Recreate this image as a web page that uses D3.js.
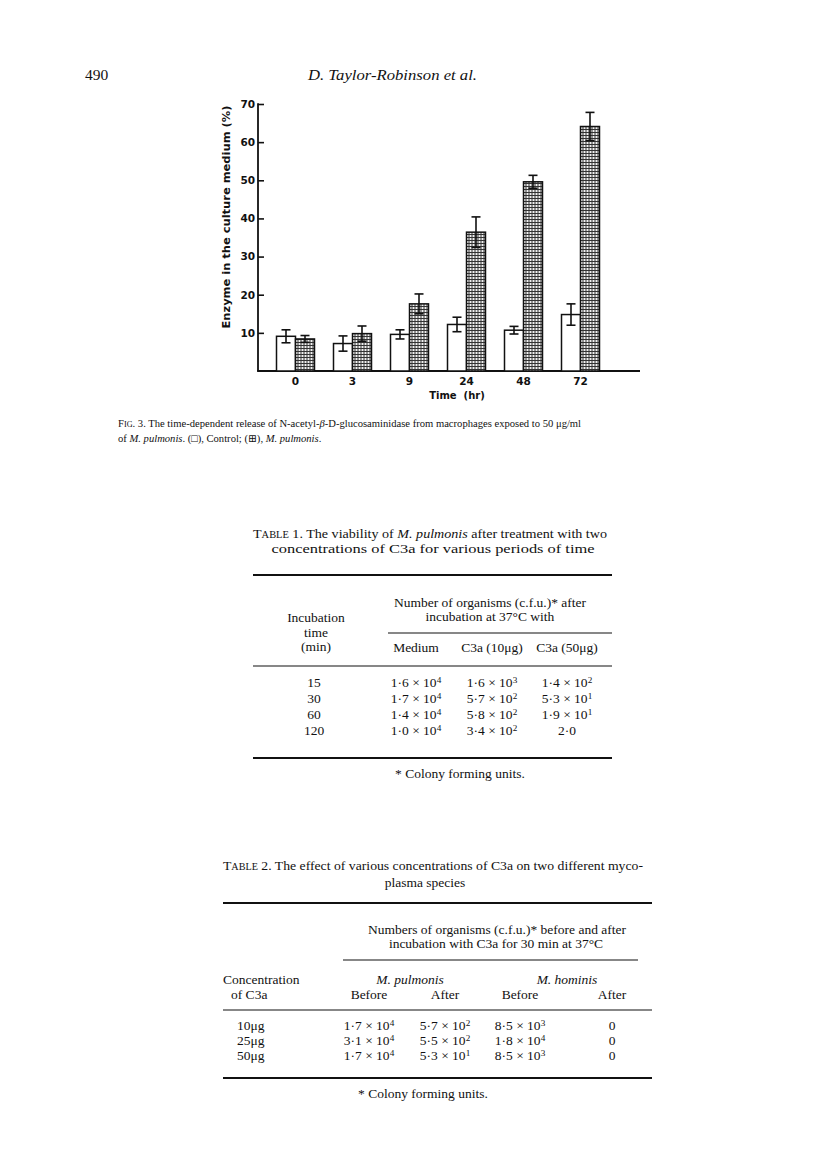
<!DOCTYPE html>
<html>
<head>
<meta charset="utf-8">
<script src="https://cdn.jsdelivr.net/npm/d3@7"></script>
<style>
  html, body { margin: 0; padding: 0; background: #fff; }
  svg { display: block; }
  .serif { font-family: "Liberation Serif", "DejaVu Serif", serif; fill: #111; }
  .sans { font-family: "DejaVu Sans", sans-serif; font-weight: bold; fill: #111; }
</style>
</head>
<body>
<svg id="page" width="816" height="1157"></svg>
<script>
// ---------- Chart data ----------
const categories = ["0", "3", "9", "24", "48", "72"];
const controlValues = [9.1, 7.2, 9.6, 12.2, 10.7, 14.8];
const controlErrors = [1.7, 2.0, 1.2, 1.9, 1.0, 2.8];
const pulmonisValues = [8.4, 9.8, 17.6, 36.4, 49.6, 64.1];
const pulmonisErrors = [0.9, 2.0, 2.6, 4.0, 1.7, 3.7];
const yTickValues = [10, 20, 30, 40, 50, 60, 70];

// ---------- Table 1 data ----------
const t1Times = ["15", "30", "60", "120"];
const t1Medium = ["1·6 × 10^4", "1·7 × 10^4", "1·4 × 10^4", "1·0 × 10^4"];
const t1C3a10 = ["1·6 × 10^3", "5·7 × 10^2", "5·8 × 10^2", "3·4 × 10^2"];
const t1C3a50 = ["1·4 × 10^2", "5·3 × 10^1", "1·9 × 10^1", "2·0"];
const t1Columns = ["Medium", "C3a (10μg)", "C3a (50μg)"];

// ---------- Table 2 data ----------
const t2Conc = ["10μg", "25μg", "50μg"];
const t2PulBefore = ["1·7 × 10^4", "3·1 × 10^4", "1·7 × 10^4"];
const t2PulAfter = ["5·7 × 10^2", "5·5 × 10^2", "5·3 × 10^1"];
const t2HomBefore = ["8·5 × 10^3", "1·8 × 10^4", "8·5 × 10^3"];
const t2HomAfter = ["0", "0", "0"];

const svg = d3.select("#page");

// pattern for the M. pulmonis bars
const defs = svg.append("defs");
const pat = defs.append("pattern").attr("id", "screen")
  .attr("patternUnits", "userSpaceOnUse").attr("width", 3).attr("height", 3);
pat.append("rect").attr("width", 3).attr("height", 3).attr("fill", "#f0f0f0");
pat.append("rect").attr("width", 3).attr("height", 1).attr("fill", "#333");
pat.append("rect").attr("width", 1).attr("height", 3).attr("fill", "#333");

// ---------- page header ----------
svg.append("text").attr("class", "serif").attr("x", 85).attr("y", 80)
  .style("font-size", "15.5px").text("490");
svg.append("text").attr("class", "serif").attr("x", 308).attr("y", 80)
  .style("font-size", "15.5px").style("font-style", "italic")
  .attr("textLength", 169).attr("lengthAdjust", "spacingAndGlyphs")
  .text("D. Taylor-Robinson et al.");

// ---------- chart ----------
const x0 = 258, yBase = 371;
const y = d3.scaleLinear().domain([0, 70]).range([yBase, 104]);
const x = d3.scaleBand().domain(categories).range([267, 609])
  .paddingInner(1 / 3).paddingOuter(1 / 6);
const xs = d3.scaleBand().domain(["control", "pulmonis"]).range([0, x.bandwidth()]);

const g = svg.append("g");

// y axis (ticks inward)
const yAxis = d3.axisRight(y).tickValues(yTickValues).tickSize(6).tickFormat("");
const ya = g.append("g").attr("transform", `translate(${x0},0)`).call(yAxis);
ya.select(".domain").remove();
ya.selectAll(".tick line").attr("stroke", "#111").attr("stroke-width", 1.6);
g.append("line").attr("x1", x0).attr("x2", x0).attr("y1", y(70) - 0.8).attr("y2", yBase)
  .attr("stroke", "#111").attr("stroke-width", 1.8);
g.selectAll(".ylab").data(yTickValues).enter().append("text")
  .attr("class", "sans").attr("x", x0 - 3).attr("y", d => y(d) + 3.8)
  .attr("text-anchor", "end").style("font-size", "10.5px").text(d => d);

// x axis
const xAxis = d3.axisBottom(x).tickSize(0).tickPadding(5);
const xa = g.append("g").attr("transform", `translate(0,${yBase})`).call(xAxis);
xa.select(".domain").remove();
xa.selectAll(".tick text").attr("class", "sans").style("font-size", "10.5px")
  .attr("font-family", null).attr("dy", "0.9em");
g.append("line").attr("x1", x0 - 0.9).attr("x2", 640).attr("y1", yBase).attr("y2", yBase)
  .attr("stroke", "#111").attr("stroke-width", 1.8);

// bars
const rows = categories.map((c, i) => ({
  c,
  items: [
    { k: "control", v: controlValues[i], e: controlErrors[i] },
    { k: "pulmonis", v: pulmonisValues[i], e: pulmonisErrors[i] }
  ]
}));
const grp = g.selectAll(".grp").data(rows).enter().append("g")
  .attr("transform", d => `translate(${x(d.c)},0)`);
grp.selectAll("rect").data(d => d.items).enter().append("rect")
  .attr("x", d => xs(d.k)).attr("width", xs.bandwidth())
  .attr("y", d => y(d.v)).attr("height", d => yBase - y(d.v))
  .attr("fill", d => d.k === "control" ? "#fff" : "url(#screen)")
  .attr("stroke", "#111").attr("stroke-width", 1.5);
// error bars
const eb = grp.selectAll(".eb").data(d => d.items).enter().append("g");
eb.append("line")
  .attr("x1", d => xs(d.k) + xs.bandwidth() / 2).attr("x2", d => xs(d.k) + xs.bandwidth() / 2)
  .attr("y1", d => y(d.v + d.e)).attr("y2", d => y(d.v - d.e))
  .attr("stroke", "#111").attr("stroke-width", 1.6);
["top", "bot"].forEach(w => {
  eb.append("line")
    .attr("x1", d => xs(d.k) + xs.bandwidth() / 2 - 4.5).attr("x2", d => xs(d.k) + xs.bandwidth() / 2 + 4.5)
    .attr("y1", d => y(w === "top" ? d.v + d.e : d.v - d.e))
    .attr("y2", d => y(w === "top" ? d.v + d.e : d.v - d.e))
    .attr("stroke", "#111").attr("stroke-width", 1.6);
});

// axis titles
g.append("text").attr("class", "sans")
  .attr("transform", `translate(${230},${217}) rotate(-90)`)
  .attr("text-anchor", "middle").style("font-size", "10px")
  .attr("textLength", 223).attr("lengthAdjust", "spacingAndGlyphs")
  .text("Enzyme in the culture medium (%)");
g.append("text").attr("class", "sans").attr("x", 457).attr("y", 399)
  .attr("text-anchor", "middle").style("font-size", "10px").style("white-space", "pre")
  .text("Time  (hr)");

// ---------- caption ----------
const cap1 = svg.append("text").attr("class", "serif").attr("x", 118).attr("y", 427)
  .style("font-size", "10.6px");
cap1.append("tspan").text("F");
cap1.append("tspan").style("font-size", "8.2px").text("IG");
cap1.append("tspan").text(". 3. The time-dependent release of N-acetyl-");
cap1.append("tspan").style("font-style", "italic").text("β");
cap1.append("tspan").text("-D-glucosaminidase from macrophages exposed to 50 μg/ml");
const cap2 = svg.append("text").attr("class", "serif").attr("x", 118).attr("y", 442)
  .style("font-size", "10.6px");
cap2.append("tspan").text("of ");
cap2.append("tspan").style("font-style", "italic").text("M. pulmonis");
cap2.append("tspan").text(". (□), Control; (⊞), ");
cap2.append("tspan").style("font-style", "italic").text("M. pulmonis");
cap2.append("tspan").text(".");

// ---------- helpers ----------
function valText(sel, str, xx, yy, anchor, size) {
  const t = sel.append("text").attr("class", "serif").attr("x", xx).attr("y", yy)
    .attr("text-anchor", anchor || "middle").style("font-size", (size || 13.5) + "px");
  const parts = str.split("^");
  t.append("tspan").text(parts[0]);
  if (parts.length > 1) {
    t.append("tspan").attr("dy", "-0.42em").style("font-size", "0.68em").text(parts[1]);
  }
  return t;
}
function rule(yy, xa1, xa2, w) {
  svg.append("line").attr("x1", xa1).attr("x2", xa2).attr("y1", yy).attr("y2", yy)
    .attr("stroke", "#111").attr("stroke-width", w);
}
function plain(str, xx, yy, anchor, size, style) {
  return svg.append("text").attr("class", "serif").attr("x", xx).attr("y", yy)
    .attr("text-anchor", anchor || "middle").style("font-size", (size || 13.5) + "px")
    .style("font-style", style || "normal").text(str);
}

// ---------- Table 1 ----------
const t1a = svg.append("text").attr("class", "serif").attr("x", 253).attr("y", 538)
  .style("font-size", "13.5px").attr("textLength", 354).attr("lengthAdjust", "spacingAndGlyphs");
t1a.append("tspan").text("T");
t1a.append("tspan").style("font-size", "10px").text("ABLE");
t1a.append("tspan").text(" 1. The viability of ");
t1a.append("tspan").style("font-style", "italic").text("M. pulmonis");
t1a.append("tspan").text(" after treatment with two");
plain("concentrations of C3a for various periods of time", 433, 553, "middle", 13.5)
  .attr("textLength", 323).attr("lengthAdjust", "spacingAndGlyphs");
rule(575, 253, 612, 2);
plain("Number of organisms (c.f.u.)* after", 490, 607);
plain("incubation at 37°C with", 490, 621);
rule(633, 388, 612, 1.1);
plain("Incubation", 316, 622);
plain("time", 316, 637);
plain("(min)", 316, 651);
const t1ColX = [416, 492, 567];
t1Columns.forEach((c, i) => plain(c, t1ColX[i], 652));
rule(666, 253, 612, 1.1);
const t1RowY = [687, 703, 719, 735];
t1Times.forEach((v, i) => plain(v, 314, t1RowY[i]));
[t1Medium, t1C3a10, t1C3a50].forEach((col, j) =>
  col.forEach((v, i) => valText(svg, v, t1ColX[j], t1RowY[i])));
rule(758, 253, 612, 2);
plain("* Colony forming units.", 460, 778);

// ---------- Table 2 ----------
const t2a = svg.append("text").attr("class", "serif").attr("x", 223).attr("y", 870)
  .style("font-size", "13.5px").attr("textLength", 420).attr("lengthAdjust", "spacingAndGlyphs");
t2a.append("tspan").text("T");
t2a.append("tspan").style("font-size", "10px").text("ABLE");
t2a.append("tspan").text(" 2. The effect of various concentrations of C3a on two different myco-");
plain("plasma species", 425, 887);
rule(903, 223, 652, 2);
plain("Numbers of organisms (c.f.u.)* before and after", 497, 934);
plain("incubation with C3a for 30 min at 37°C", 496, 948);
rule(960, 343, 638, 1.1);
plain("Concentration", 223, 984, "start");
plain("of C3a", 231, 999, "start");
plain("M. pulmonis", 410, 984, "middle", 13.5, "italic");
plain("M. hominis", 567, 984, "middle", 13.5, "italic");
const t2ColX = [369, 445, 520, 612];
["Before", "After", "Before", "After"].forEach((c, i) => plain(c, t2ColX[i], 999));
rule(1010, 223, 652, 1.1);
const t2RowY = [1030, 1045, 1060];
t2Conc.forEach((v, i) => plain(v, 237, t2RowY[i], "start"));
[t2PulBefore, t2PulAfter, t2HomBefore, t2HomAfter].forEach((col, j) =>
  col.forEach((v, i) => valText(svg, v, t2ColX[j], t2RowY[i])));
rule(1078, 223, 652, 2);
plain("* Colony forming units.", 423, 1098);
</script>
</body>
</html>
